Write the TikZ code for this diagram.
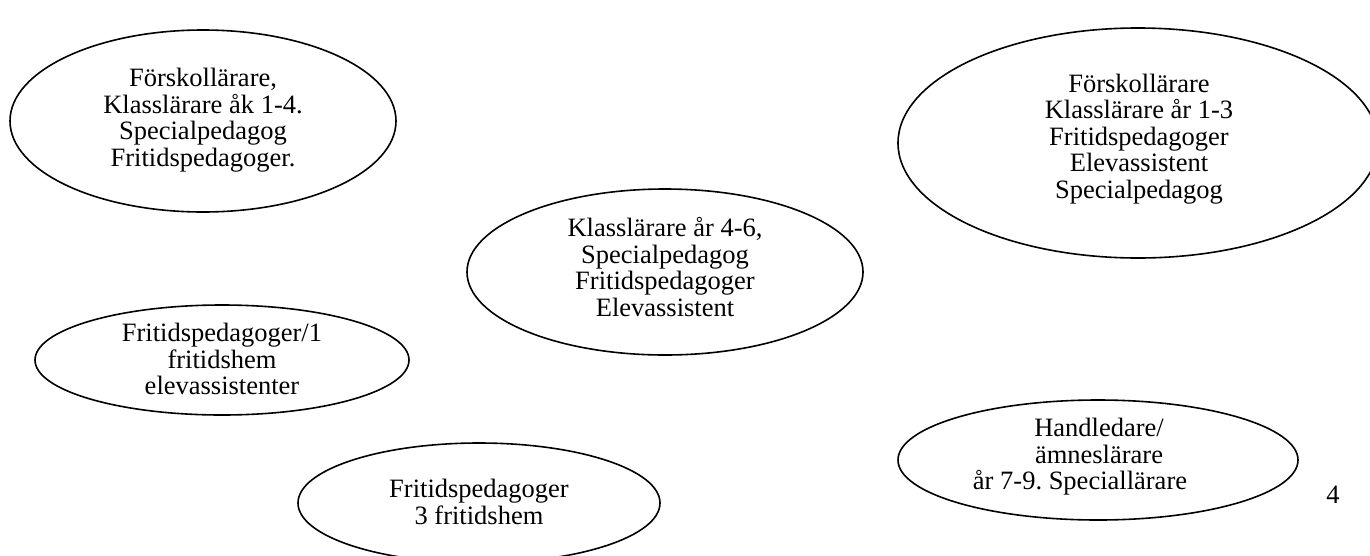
\documentclass[tikz,border=0pt]{standalone}
\usepackage{fontspec}
\setmainfont{Liberation Serif}
\usepackage{tikz}
\frenchspacing
\tikzset{
    font={\fontsize{26.5pt}{26.5pt}\selectfont},
    group/.style={align=center, inner sep=0pt},
    }

\begin{document}
\begin{tikzpicture}
    [x=1pt, y=-1pt, line width=1.6pt]
    \useasboundingbox (0,0) rectangle (1370,555);
    \clip (0,0) rectangle (1370,555);
    % ellipses
    \draw (203,121) ellipse [x radius=193, y radius=91];
    \draw (665,272) ellipse [x radius=198, y radius=83];
    \draw (1138,143) ellipse [x radius=240, y radius=115];
    \draw (222,360) ellipse [x radius=187, y radius=55];
    \draw (479,503) ellipse [x radius=181, y radius=60];
    \draw (1098,460) ellipse [x radius=200, y radius=60];
    % text
    \node[group] (forskola) at (203,120)
        {Förskollärare,\\Klasslärare åk 1-4.\\Specialpedagog\\Fritidspedagoger.};
    \node[group] (mellan) at (665,267)
        {Klasslärare år 4-6,\\Specialpedagog\\Fritidspedagoger\\Elevassistent};
    \node[group] (lagstadie) at (1139,139)
        {Förskollärare\\Klasslärare år 1-3\\Fritidspedagoger\\Elevassistent\\Specialpedagog};
    \node[group] (fritids) at (222,359)
        {Fritidspedagoger/1\\fritidshem\\elevassistenter};
    \node[group] (fritidshem) at (479,502)
        {Fritidspedagoger\\3 fritidshem};
    \node[group] (hogstadie) at (1099,457)
        {Handledare/\\ämneslärare\\år 7-9. Speciallärare\hspace*{38pt}};
    \node[group] (sida) at (1333,495) {4};
\end{tikzpicture}
\end{document}
